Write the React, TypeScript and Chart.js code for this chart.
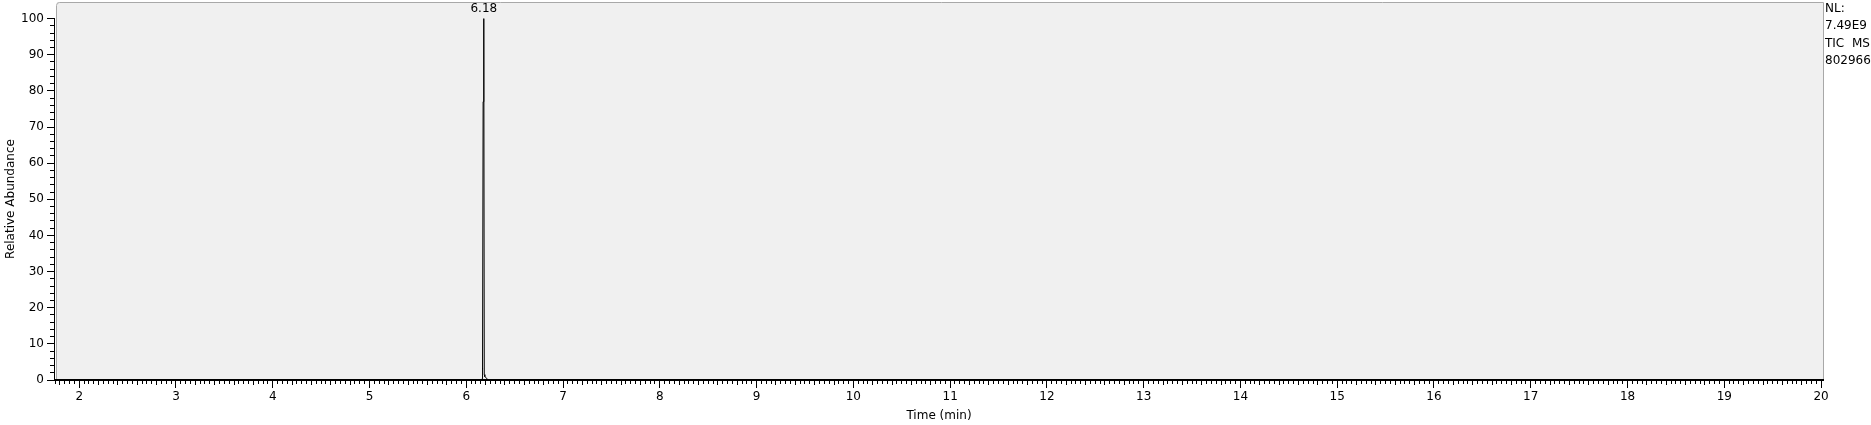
import React, { useEffect, useRef } from 'react';
import { Chart, registerables } from 'chart.js';

Chart.register(...registerables);

// chromatogram (TIC)
const timeMin = [1.75, 6.15, 6.163, 6.166, 6.17, 6.174, 6.181, 6.186, 6.192, 6.2, 6.211, 6.22, 20.02];
const relAbundance = [0, 0, 0.3, 3.2, 3.0, 77, 100, 1.5, 0.9, 0.7, 0.5, 0, 0];

const xTickValues = [2, 3, 4, 5, 6, 7, 8, 9, 10, 11, 12, 13, 14, 15, 16, 17, 18, 19, 20];
const yTickValues = [0, 10, 20, 30, 40, 50, 60, 70, 80, 90, 100];
const infoLines = ['NL:', '7.49E9', 'TIC  MS', '802966'];

const X_MIN = 1.75;
const X_MAX = 20.02;
const Y_MAX = 104.6;
const X_MINOR = 0.05;
const Y_MINOR = 2;

const FONT = 'DejaVu Sans';
Chart.defaults.font.family = FONT;
Chart.defaults.color = '#000';

const align = (p: number) => Math.round(p - 0.5) + 0.5;

const chromePlugin = {
  id: 'chrome',
  beforeDraw(chart: any) {
    const { ctx, chartArea: a } = chart;
    const left = a.left + 2;
    ctx.save();
    ctx.fillStyle = '#f0f0f0';
    ctx.fillRect(left, a.top, a.right - left, a.bottom - a.top);
    ctx.strokeStyle = '#a8a8a8';
    ctx.lineWidth = 1;
    ctx.beginPath();
    ctx.moveTo(left - 0.5, a.bottom);
    ctx.lineTo(left - 0.5, a.top + 3.5);
    ctx.quadraticCurveTo(left - 0.5, a.top + 0.5, left + 2.5, a.top + 0.5);
    ctx.lineTo(a.right + 0.5, a.top + 0.5);
    ctx.lineTo(a.right + 0.5, a.bottom);
    ctx.stroke();
    ctx.restore();
  },
  afterDraw(chart: any) {
    const { ctx, chartArea: a } = chart;
    const xs = chart.scales.x;
    const ys = chart.scales.y;
    ctx.save();
    ctx.strokeStyle = '#000';
    ctx.lineWidth = 1;

    // y axis line, only over 0..100
    const axisX = a.left - 0.5;
    ctx.beginPath();
    ctx.moveTo(axisX, align(ys.getPixelForValue(100)) - 0.5);
    ctx.lineTo(axisX, ys.getPixelForValue(0));
    // y minor ticks
    for (let v = 0; v <= 100; v += Y_MINOR) {
      if (v % 10 === 0) continue;
      const y = align(ys.getPixelForValue(v));
      ctx.moveTo(a.left - 5, y);
      ctx.lineTo(a.left, y);
    }
    // x minor ticks
    const k0 = Math.ceil(X_MIN / X_MINOR);
    const k1 = Math.floor(X_MAX / X_MINOR);
    for (let k = k0; k <= k1; k++) {
      if (k % 20 === 0) continue;
      const x = align(xs.getPixelForValue(k * X_MINOR));
      const len = k % 4 === 0 ? 4 : 3;
      ctx.moveTo(x, a.bottom + 1);
      ctx.lineTo(x, a.bottom + 1 + len);
    }
    ctx.stroke();

    ctx.fillStyle = '#000';
    ctx.font = `12px "${FONT}"`;
    ctx.textBaseline = 'middle';

    // peak label
    let top = 0;
    relAbundance.forEach((v, i) => { if (v > relAbundance[top]) top = i; });
    ctx.textAlign = 'center';
    ctx.fillText(timeMin[top].toFixed(2), xs.getPixelForValue(timeMin[top]), 9.1);

    // info block on the right
    ctx.textAlign = 'left';
    const infoY = [9.1, 25.8, 44.1, 60.8];
    infoLines.forEach((t, i) => ctx.fillText(t, a.right + 2, infoY[i]));

    // y axis title
    ctx.translate(11.3, 199);
    ctx.rotate(-Math.PI / 2);
    ctx.textAlign = 'center';
    ctx.fillText('Relative Abundance', 0, 0);
    ctx.restore();
  },
};

const App: React.FC = () => {
  const canvasRef = useRef<HTMLCanvasElement>(null);

  useEffect(() => {
    document.body.style.margin = '0';
    if (!canvasRef.current) return;
    const chart = new Chart(canvasRef.current, {
      type: 'line',
      data: {
        datasets: [
          {
            data: timeMin.map((t, i) => ({ x: t, y: relAbundance[i] })),
            borderColor: '#000',
            borderWidth: 1,
            pointRadius: 0,
            tension: 0,
            fill: false,
          },
        ],
      },
      options: {
        animation: false,
        responsive: false,
        layout: { padding: { top: 2, right: 48, bottom: 0, left: 0 } },
        plugins: { legend: { display: false }, tooltip: { enabled: false } },
        scales: {
          x: {
            type: 'linear',
            min: X_MIN,
            max: X_MAX,
            afterBuildTicks: (axis: any) => {
              axis.ticks = xTickValues.map((v) => ({ value: v }));
            },
            afterFit: (axis: any) => {
              axis.height = 45;
              axis.paddingLeft = 0;
              axis.paddingRight = 0;
            },
            ticks: {
              callback: (v: any) => String(v),
              font: { size: 12, family: FONT },
              color: '#000',
              padding: 2,
              maxRotation: 0,
              autoSkip: false,
            },
            grid: { drawOnChartArea: false, tickLength: 8, color: '#000', lineWidth: 1 },
            border: { display: true, color: '#000', width: 2 },
            title: {
              display: true,
              text: 'Time (min)',
              color: '#000',
              font: { size: 12, family: FONT },
              padding: { top: 0, bottom: 2 },
            },
          },
          y: {
            type: 'linear',
            min: 0,
            max: Y_MAX,
            afterBuildTicks: (axis: any) => {
              axis.ticks = yTickValues.map((v) => ({ value: v }));
            },
            afterFit: (axis: any) => {
              axis.width = 55;
              axis.paddingTop = 0;
              axis.paddingBottom = 0;
            },
            ticks: {
              callback: (v: any) => String(v),
              font: { size: 12, family: FONT },
              color: '#000',
              padding: 3,
              autoSkip: false,
            },
            grid: { drawOnChartArea: false, tickLength: 8, color: '#000', lineWidth: 1 },
            border: { display: false },
          },
        },
      },
      plugins: [chromePlugin],
    });
    return () => chart.destroy();
  }, []);

  return (
    <div style={{ width: 1871, height: 425 }}>
      <canvas ref={canvasRef} width={1871} height={425} style={{ display: 'block' }} />
    </div>
  );
};

export default App;
